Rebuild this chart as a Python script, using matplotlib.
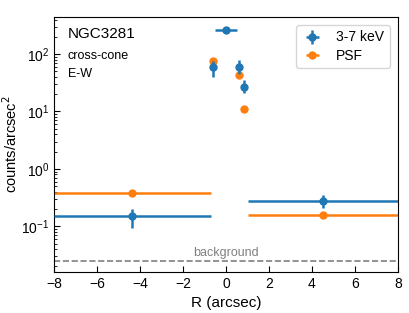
import matplotlib
matplotlib.use("Agg")
import matplotlib.pyplot as plt
import numpy as np

plt.rcParams['font.family'] = ['Liberation Sans', 'DejaVu Sans']

# 3-7 keV data
r_x = [-4.35, -0.6, 0.0, 0.6, 0.85, 4.5]
r_xlo = [3.65, 0.0, 0.5, 0.0, 0.0, 3.46]
r_xhi = [3.65, 0.0, 0.5, 0.0, 0.0, 3.5]
r_y = [0.154, 60, 265, 60, 27, 0.275]
r_ylo = [0.059, 20, 0, 15, 6, 0.065]
r_yhi = [0.046, 15, 0, 20, 8, 0.075]

# PSF
p_x = [-4.35, -0.6, 0.6, 0.85, 4.5]
p_xlo = [3.65, 0.0, 0.0, 0.0, 3.46]
p_xhi = [3.65, 0.0, 0.0, 0.0, 3.5]
p_y = [0.375, 76, 43, 11, 0.157]

background = 0.0245

fig = plt.figure(figsize=(4.09, 3.13), dpi=100)
ax = fig.add_axes([0.132, 0.131, 0.841, 0.816])

ax.errorbar(r_x, r_y, xerr=[r_xlo, r_xhi], yerr=[r_ylo, r_yhi], fmt='o',
            color='#1f77b4', ms=5, elinewidth=1.8, label='3-7 keV', zorder=3)
ax.errorbar(p_x, p_y, xerr=[p_xlo, p_xhi], fmt='o', color='#ff7f0e', ms=5,
            elinewidth=1.8, label='PSF', zorder=2)
ax.axhline(background, color='grey', ls='--', lw=1.2)
ax.text(0, background * 1.08, 'background', color='grey', ha='center',
        va='bottom', fontsize=9)

ax.set_yscale('log')
ax.set_xlim(-8, 8)
ax.set_ylim(0.016, 450)
ax.set_xticks([-8, -6, -4, -2, 0, 2, 4, 6, 8])
ax.tick_params(which='both', direction='in', labelsize=10)
ax.tick_params(which='major', length=4)
ax.tick_params(which='minor', length=2)
ax.set_xlabel('R (arcsec)', fontsize=11)
ax.set_ylabel('counts/arcsec$^2$', fontsize=10.5, labelpad=1)

ax.text(0.04, 0.93, 'NGC3281', transform=ax.transAxes, fontsize=11, va='center')
ax.text(0.04, 0.845, 'cross-cone', transform=ax.transAxes, fontsize=9, va='center')
ax.text(0.04, 0.775, 'E-W', transform=ax.transAxes, fontsize=9, va='center')

ax.legend(loc='upper right', fontsize=10, borderpad=0.4, labelspacing=0.3,
          handlelength=1.6, handletextpad=0.9, borderaxespad=0.6)

fig.savefig('out.png', dpi=100)
